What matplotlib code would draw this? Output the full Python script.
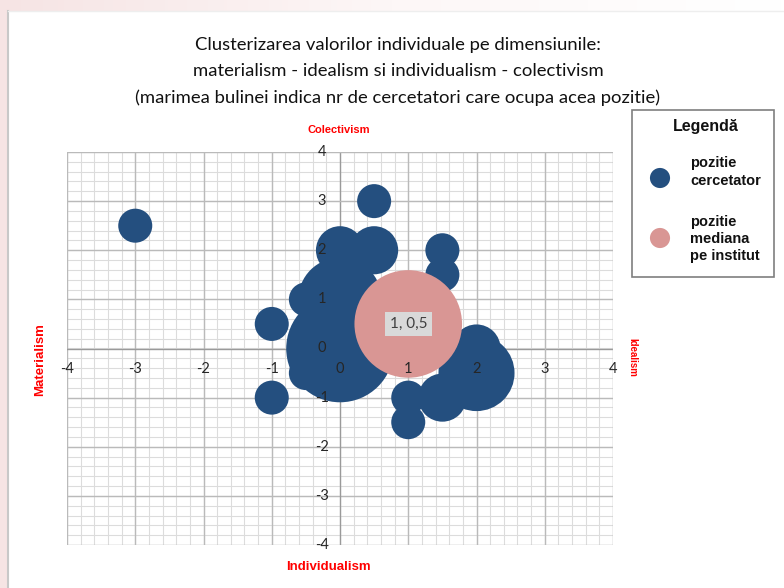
import matplotlib
matplotlib.use("Agg")
import matplotlib.pyplot as plt
import numpy as np
from matplotlib.patches import Rectangle
from matplotlib.colors import LinearSegmentedColormap

# ---- data ----
blue_x = [-3, 0.5, 0, 0.5, 1.5, 1.5, -0.5, 0, -1, 0, -0.5, -1, 2, 2, 1.5, 1, 1]
blue_y = [2.5, 3, 2, 2, 2, 1.5, 1, 1, 0.5, 0, -0.5, -1, 0, -0.5, -1, -1, -1.5]
blue_n = [1, 1, 2, 2, 1, 1, 1, 6, 1, 10, 1, 1, 2, 5, 2, 1, 1]
pink_x = [1]
pink_y = [0.5]
pink_n = [10]
ticks = [-4, -3, -2, -1, 0, 1, 2, 3, 4]

title_lines = ["Clusterizarea valorilor individuale pe dimensiunile:",
               "materialism - idealism si individualism - colectivism",
               "(marimea bulinei indica nr de cercetatori care ocupa acea pozitie)"]

BLUE = "#244F7F"
PINK = "#D99694"
RED = "#FF0000"
FONT = ["Lato", "DejaVu Sans"]
NARROW = ["Liberation Sans Narrow", "Liberation Sans", "DejaVu Sans"]

W, H = 784, 588
fig = plt.figure(figsize=(W / 100, H / 100), dpi=100)
fig.patch.set_facecolor("white")

# background frame
bg = fig.add_axes([0, 0, 1, 1], zorder=-10)
bg.set_xlim(0, W)
bg.set_ylim(H, 0)
bg.axis("off")
grad = np.linspace(0, 1, 256)[None, :]
cmap = LinearSegmentedColormap.from_list("pk", ["#F6E4E4", "#FDF7F7", "#FFFFFF"])
bg.imshow(grad, cmap=cmap, extent=[0, W, 11, 0], aspect="auto")
bg.add_patch(Rectangle((0, 0), 8, H, color="#F6E4E4", lw=0))
bg.plot([8, 8], [11, H], color="#C8C8C8", lw=1.5)
bg.plot([8, W], [11, 11], color="#EEEEEE", lw=1)

# title
for i, t in enumerate(title_lines):
    fig.text(398 / W, 1 - (45 + 26.5 * i) / H, t, ha="center", va="center",
             fontsize=13.3, family=FONT, color="#111111")

# main axes
ax = fig.add_axes([67 / W, 1 - 545 / H, 546 / W, 393 / H])
ax.set_xlim(-4, 4)
ax.set_ylim(-4, 4)
for s in ax.spines.values():
    s.set_visible(False)
ax.set_xticks([])
ax.set_yticks([])

minor = np.arange(-4, 4.01, 0.2)
for v in minor:
    ax.axvline(v, color="#DCDCDC", lw=0.8, zorder=0)
    ax.axhline(v, color="#DCDCDC", lw=0.8, zorder=0)
for v in ticks:
    c = "#9A9A9A" if v == 0 else "#BABABA"
    ax.axvline(v, color=c, lw=1.0, zorder=0.5)
    ax.axhline(v, color=c, lw=1.0, zorder=0.5)

# tick labels (axes cross at origin), drawn above the bubbles
for v in ticks:
    ax.annotate(str(v), (v, 0), xytext=(0, -15), textcoords="offset points",
                ha="center", va="center", fontsize=10.5, family=FONT,
                color="#262626", zorder=6)
    ax.annotate(str(v), (0, v), xytext=(-13, 0), textcoords="offset points",
                ha="center", va="center", fontsize=10.5, family=FONT,
                color="#262626", zorder=6)

K = 600
ax.scatter(blue_x, blue_y, s=[K * n for n in blue_n], color=BLUE,
           edgecolors="none", zorder=3, clip_on=False)
ax.scatter(pink_x, pink_y, s=[K * n for n in pink_n], color=PINK,
           edgecolors="none", zorder=4, clip_on=False)
for x, y in zip(pink_x, pink_y):
    lab = f"{x:g}, {y:g}".replace(".", ",")
    ax.text(x, y, lab, ha="center", va="center", fontsize=11, family=FONT,
            color="#404040", zorder=7,
            bbox=dict(boxstyle="square,pad=0.3", fc="#D9D9D9", ec="none"))

# axis titles
fig.text(339 / W, 1 - 130 / H, "Colectivism", color=RED, fontsize=8,
         weight="bold", family=NARROW, ha="center", va="center")
fig.text(328 / W, 1 - 567 / H, "Individualism", color=RED, fontsize=9.5,
         weight="bold", family=NARROW, ha="center", va="center")
fig.text(40 / W, 1 - 360 / H, "Materialism", color=RED, fontsize=9.5,
         weight="bold", family=NARROW, ha="center", va="center", rotation=90)
fig.text(632 / W, 1 - 357 / H, "Idealism", color=RED, fontsize=7,
         weight="bold", family=NARROW, ha="center", va="center", rotation=-90)

# legend box
bg.add_patch(Rectangle((632, 110), 142, 167, fc="white", ec="#7F7F7F", lw=1.2))
bg.text(706, 127, "Legendă", ha="center", va="center", fontsize=11.5,
        weight="bold", family=NARROW, color="#111111")
bg.scatter([660], [178], s=210, color=BLUE, edgecolors="none")
bg.scatter([660], [238], s=210, color=PINK, edgecolors="none")
bg.text(690, 172, "pozitie\ncercetator", ha="left", va="center", fontsize=10.5,
        weight="bold", family=NARROW, color="#111111", linespacing=1.3)
bg.text(690, 239, "pozitie\nmediana\npe institut", ha="left", va="center",
        fontsize=10.5, weight="bold", family=NARROW, color="#111111",
        linespacing=1.3)

fig.savefig("out.png", dpi=100)
